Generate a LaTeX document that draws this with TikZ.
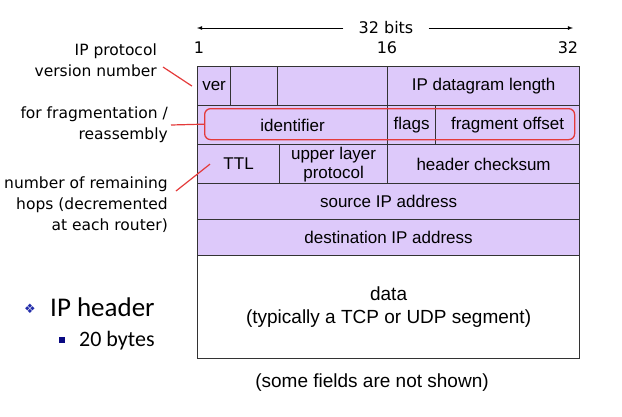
\documentclass[tikz,border=0pt]{standalone}
\usepackage{fontspec}
\setmainfont{Liberation Sans}
\newfontfamily\notefont{DejaVu Sans}
\newfontfamily\slidefont{Carlito}
\newfontfamily\symfont{DejaVu Sans}
\usetikzlibrary{positioning}
\definecolor{hdrfill}{RGB}{221,201,250}
\definecolor{markred}{RGB}{228,58,58}
\definecolor{bulletblue}{RGB}{35,45,170}
\definecolor{bulletnavy}{RGB}{10,10,130}
\tikzset{
  field/.style={draw=black!80, line width=1.2pt, fill=hdrfill, inner sep=0pt,
    anchor=north west, align=center, font=\fontsize{17}{19}\selectfont},
  note/.style={font=\notefont\fontsize{15.5}{21}\selectfont, align=right, anchor=east, inner sep=0pt},
  bitnum/.style={font=\notefont\fontsize{16}{18}\selectfont, inner sep=0pt},
  callout/.style={markred, line width=1.2pt},
}

\begin{document}
\begin{tikzpicture}[x=1pt,y=-1pt]
\useasboundingbox (0,0) rectangle (622,416);
% bit ruler
\node[bitnum, inner xsep=15pt] (bits) at (386,28) {32 bits};
\coordinate (msb) at (197,28);
\coordinate (lsb) at (573,28);
\draw[line width=0.8pt,-latex] (bits) -- (msb);
\draw[line width=0.8pt,-latex] (bits) -- (lsb);
\foreach \pos/\bit in {199/1,387/16,568/32}
   \node[bitnum] (b\bit) at (\pos,48) {\bit};
% header rows
\node[field, minimum width=33pt, minimum height=39pt] (ver) at (197,66) {ver};
\node[field, minimum width=47pt, minimum height=39pt] (hlen) at (230,66) {};
\node[field, minimum width=110pt, minimum height=39pt] (tos) at (277,66) {};
\node[field, minimum width=192pt, minimum height=39pt] (len) at (387,66) {IP datagram length};
\node[field, minimum width=190pt, minimum height=39pt] (ident) at (197,105) {identifier};
\node[field, minimum width=48pt, minimum height=39pt] (flags) at (387,105) {flags};
\node[field, minimum width=144pt, minimum height=39pt] (fragoff) at (435,105) {fragment offset};
\node[field, minimum width=82pt, minimum height=39pt] (ttl) at (197,144) {TTL};
\node[field, minimum width=108pt, minimum height=39pt] (proto) at (279,144) {upper layer\\protocol};
\node[field, minimum width=192pt, minimum height=39pt] (cksum) at (387,144) {header checksum};
\node[field, minimum width=382pt, minimum height=36pt] (src) at (197,183) {source IP address};
\node[field, minimum width=382pt, minimum height=36pt] (dst) at (197,219) {destination IP address};
\node[field, fill=white, minimum width=382pt, minimum height=103pt,
   font=\fontsize{19}{23}\selectfont] (data) at (197,255) {data\\(typically a TCP or UDP segment)};
% fragmentation marker
\node[draw=markred, line width=1.3pt, rounded corners=6pt, inner sep=0pt,
   minimum width=370pt, minimum height=31pt, anchor=north west] (frag) at (204,108) {};
%Labeling fields
\node[note] (verlbl) at (157,60) {IP protocol\\version number};
\node[note] (fraglbl) at (168,125) {for fragmentation /\\reassembly};
\node[note] (hopslbl) at (168,205) {number of remaining\\hops (decremented\\at each router)};
\draw[callout] ([shift={(6,7)}]verlbl.east) -- ([xshift=-5pt]ver.west);
\draw[callout] ([xshift=3pt]fraglbl.east) -- (frag.west);
\draw[callout] ([shift={(8,-14)}]hopslbl.east) -- ([xshift=13pt]ttl.west);
% bullets
\node[text=bulletblue, font=\symfont\fontsize{13}{13}\selectfont, inner sep=0pt] (dia) at (30,309) {❖};
\node[font=\slidefont\fontsize{27}{30}\selectfont, anchor=west, inner sep=0pt] (iphdr) at (50,307) {IP header};
\node[fill=bulletnavy, minimum size=6pt, inner sep=0pt] (sq) at (62,340) {};
\node[font=\slidefont\fontsize{22}{24}\selectfont, anchor=west, inner sep=0pt] (bytes) at (79,341) {20 bytes};
\node[font=\fontsize{19}{22}\selectfont] (fnote) at (372,383) {(some fields are not shown)};
\end{tikzpicture}
\end{document}
